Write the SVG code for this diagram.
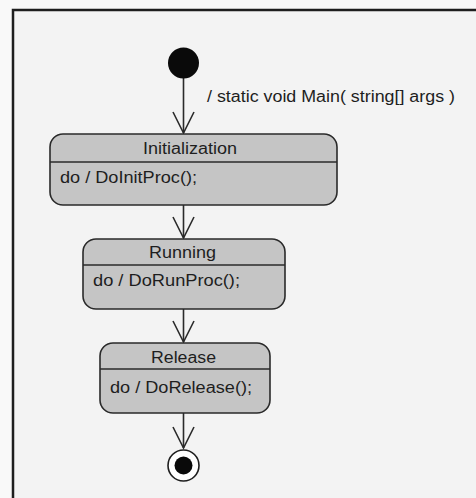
<svg xmlns="http://www.w3.org/2000/svg" width="476" height="498" viewBox="0 0 476 498">
  <style>
    .state { fill: #c5c5c5; stroke: #2a2a2a; stroke-width: 1.6; }
    .divider { stroke: #2a2a2a; stroke-width: 1.6; }
    .label { font-family: "Liberation Sans", Arial, sans-serif; font-size: 16px; fill: #1e1e1e; }
    .edge { stroke: #2a2a2a; stroke-width: 1.6; fill: none; marker-end: url(#open-arrow); }
  </style>
  <defs>
    <marker id="open-arrow" viewBox="0 0 24 24" refX="22" refY="12" markerWidth="24" markerHeight="24" markerUnits="userSpaceOnUse" orient="auto">
      <path d="M1,1.5 L22,12 L1,22.5" fill="none" stroke="#2a2a2a" stroke-width="1.6"/>
    </marker>
  </defs>

  <!-- page and frame -->
  <rect x="0" y="0" width="476" height="498" fill="#f9f9f9"/>
  <rect x="13" y="10" width="480" height="500" fill="#f3f3f3" stroke="#1e1e1e" stroke-width="2.5"/>

  <!-- transitions -->
  <g id="connectors">
    <line class="edge" x1="183.5" y1="78" x2="183.5" y2="133"/>
    <line class="edge" x1="183.5" y1="205" x2="183.5" y2="238"/>
    <line class="edge" x1="183.5" y1="309" x2="183.5" y2="342"/>
    <line class="edge" x1="183.5" y1="413" x2="183.5" y2="448"/>
    <text class="label" x="207" y="102" textLength="248" lengthAdjust="spacingAndGlyphs">/ static void Main( string[] args )</text>
  </g>

  <g id="initial">
    <circle cx="183.5" cy="63" r="15.5" fill="#0a0a0a"/>
  </g>

  <g id="initialization">
    <rect class="state" x="50" y="134" width="287" height="71" rx="13"/>
    <line class="divider" x1="50" y1="162" x2="337" y2="162"/>
    <text class="label" x="190" y="154" text-anchor="middle" textLength="94" lengthAdjust="spacingAndGlyphs">Initialization</text>
    <text class="label" x="60" y="183" textLength="137" lengthAdjust="spacingAndGlyphs">do / DoInitProc();</text>
  </g>

  <g id="running">
    <rect class="state" x="83" y="239" width="202" height="70" rx="13"/>
    <line class="divider" x1="83" y1="265" x2="285" y2="265"/>
    <text class="label" x="182.5" y="258" text-anchor="middle" textLength="67" lengthAdjust="spacingAndGlyphs">Running</text>
    <text class="label" x="93" y="286" textLength="147" lengthAdjust="spacingAndGlyphs">do / DoRunProc();</text>
  </g>

  <g id="release">
    <rect class="state" x="100" y="343" width="170" height="70" rx="13"/>
    <line class="divider" x1="100" y1="369" x2="270" y2="369"/>
    <text class="label" x="183.5" y="363" text-anchor="middle" textLength="65" lengthAdjust="spacingAndGlyphs">Release</text>
    <text class="label" x="110" y="393" textLength="142" lengthAdjust="spacingAndGlyphs">do / DoRelease();</text>
  </g>

  <g id="final">
    <circle cx="183.5" cy="465.5" r="15.5" fill="#ffffff" stroke="#1e1e1e" stroke-width="1.6"/>
    <circle cx="183.5" cy="465.5" r="9" fill="#0a0a0a"/>
  </g>
</svg>
